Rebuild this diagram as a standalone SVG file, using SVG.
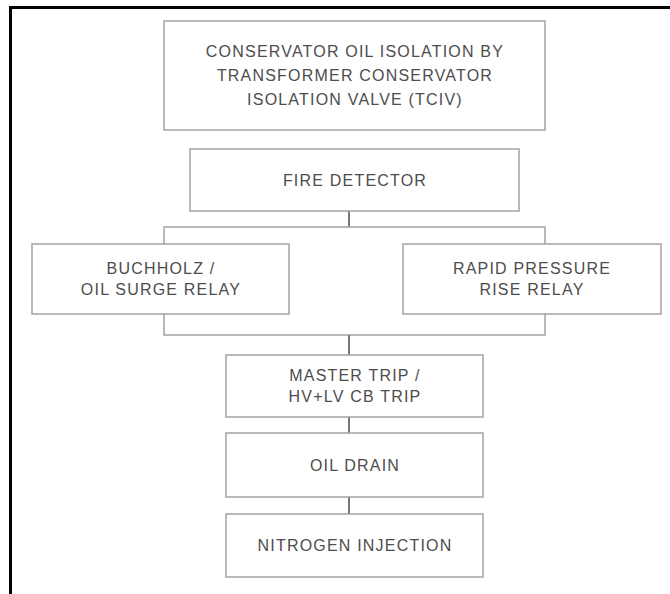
<svg xmlns="http://www.w3.org/2000/svg" width="670" height="594" viewBox="0 0 670 594">
  <style>
    .box { fill: #ffffff; stroke: #a3a3a3; stroke-width: 1.5; }
    .lbl { font-family: "Liberation Sans", Arial, sans-serif; font-size: 16px; letter-spacing: 1.2px; fill: #4d4d4d; text-anchor: middle; }
    .link { fill: none; stroke: #a3a3a3; stroke-width: 1.5; }
    .stem { fill: none; stroke: #777777; stroke-width: 2; }
    .frame { fill: none; stroke: #000000; stroke-width: 3; }
  </style>
  <rect width="670" height="594" fill="#ffffff"/>
  <!-- outer frame: only top and left edges are in view -->
  <path class="frame" d="M10.5,594 V7.5 H670"/>

  <g id="connectors">
    <path class="stem" d="M349,211 V227"/>
    <path class="link" d="M164,244 V227 H545 V244"/>
    <path class="link" d="M164,314 V335 H545 V314"/>
    <path class="stem" d="M349,335 V355"/>
    <path class="stem" d="M349,417 V433"/>
    <path class="stem" d="M349,497 V514"/>
  </g>

  <g id="tciv">
    <rect class="box" x="164" y="21" width="381" height="109"/>
    <text class="lbl" x="355" y="57">CONSERVATOR OIL ISOLATION BY</text>
    <text class="lbl" x="355" y="81">TRANSFORMER CONSERVATOR</text>
    <text class="lbl" x="355" y="105">ISOLATION VALVE (TCIV)</text>
  </g>

  <g id="fire-detector">
    <rect class="box" x="190" y="149" width="329" height="62"/>
    <text class="lbl" x="355" y="185.5">FIRE DETECTOR</text>
  </g>

  <g id="buchholz">
    <rect class="box" x="32" y="244" width="257" height="70"/>
    <text class="lbl" x="161" y="274">BUCHHOLZ /</text>
    <text class="lbl" x="161" y="295">OIL SURGE RELAY</text>
  </g>

  <g id="rapid-pressure">
    <rect class="box" x="403" y="244" width="258" height="70"/>
    <text class="lbl" x="532" y="274">RAPID PRESSURE</text>
    <text class="lbl" x="532" y="295">RISE RELAY</text>
  </g>

  <g id="master-trip">
    <rect class="box" x="226" y="355" width="257" height="62"/>
    <text class="lbl" x="355" y="381">MASTER TRIP /</text>
    <text class="lbl" x="355" y="402">HV+LV CB TRIP</text>
  </g>

  <g id="oil-drain">
    <rect class="box" x="226" y="433" width="257" height="64"/>
    <text class="lbl" x="355" y="470.5">OIL DRAIN</text>
  </g>

  <g id="nitrogen-injection">
    <rect class="box" x="226" y="514" width="257" height="63"/>
    <text class="lbl" x="355" y="551">NITROGEN INJECTION</text>
  </g>
</svg>
